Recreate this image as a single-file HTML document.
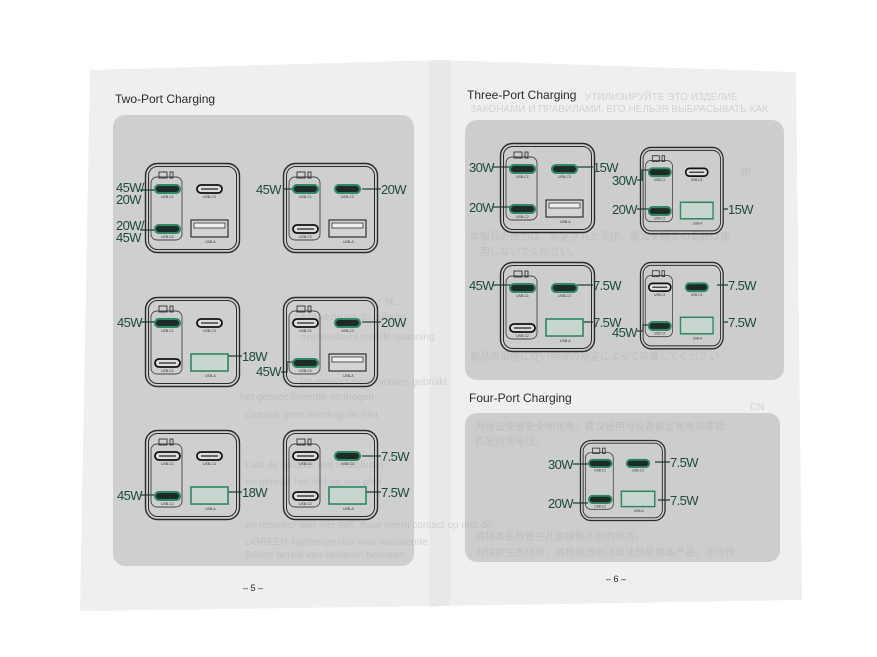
<!DOCTYPE html>
<html><head><meta charset="utf-8"><style>
html,body{margin:0;padding:0;background:#fff;width:877px;height:657px;overflow:hidden}
svg{display:block}
.t{font-family:"Liberation Sans",sans-serif;font-size:12px;fill:#2a2a2a}
.w{font-family:"Liberation Sans",sans-serif;font-size:13px;fill:#1d4a3a;letter-spacing:-0.6px}
.s{font-family:"Liberation Sans",sans-serif;font-size:3.5px;fill:#333}
.bg{font-family:"Liberation Sans","Noto Sans CJK SC",sans-serif;font-size:10px;fill:#a8a8a8}
</style></head><body>
<svg width="877" height="657" viewBox="0 0 877 657" xmlns="http://www.w3.org/2000/svg">
<defs>
<g id="ch">
<rect x="0.5" y="0.5" width="94" height="89" rx="12" fill="none" stroke="#2a2a2a" stroke-width="1.4"/>
<rect x="3.5" y="3.5" width="88" height="83" rx="9" fill="none" stroke="#2a2a2a" stroke-width="1"/>
<rect x="6" y="14" width="31" height="63" rx="6" fill="none" stroke="#444" stroke-width="0.9"/>
<rect x="14" y="9" width="8" height="6" fill="none" stroke="#333" stroke-width="0.9"/>
<rect x="25" y="9" width="3" height="6" fill="none" stroke="#333" stroke-width="0.9"/>
<rect x="10" y="22" width="25" height="8" rx="4" fill="#ddd" stroke="#111" stroke-width="1.8"/>
<line x1="14" y1="26" x2="31" y2="26" stroke="#222" stroke-width="1.2"/>
<text class="s" x="16" y="35">USB-C1</text>
<rect x="10" y="62" width="25" height="8" rx="4" fill="#ddd" stroke="#111" stroke-width="1.8"/>
<line x1="14" y1="66" x2="31" y2="66" stroke="#222" stroke-width="1.2"/>
<text class="s" x="16" y="75">USB-C2</text>
<rect x="52" y="22" width="25" height="8" rx="4" fill="#ddd" stroke="#111" stroke-width="1.8"/>
<line x1="56" y1="26" x2="73" y2="26" stroke="#222" stroke-width="1.2"/>
<text class="s" x="58" y="35">USB-C3</text>
<rect x="46" y="57" width="37" height="17" fill="#d4d4d4" stroke="#222" stroke-width="1.1"/>
<rect x="49" y="60" width="31" height="5" fill="#eee" stroke="#333" stroke-width="0.8"/>
<text class="s" x="60" y="80">USB-A</text>
</g>
<rect id="gp" width="25" height="8" rx="4" fill="#1e2a25" stroke="#2f8a63" stroke-width="2"/>
<rect id="ga" width="37" height="17" fill="#c9d6cf" stroke="#2f8a63" stroke-width="1.6"/>
</defs>
<polygon points="90,70 440,60 796,72 802,600 440,606 80,611" fill="#efefef"/>
<polygon points="430,61 440,60 450,61 450,606 440,606 430,607" fill="#e8e8e8"/>
<rect x="113" y="115" width="301" height="451" rx="12" fill="#cfcfcf"/>
<rect x="465" y="120" width="319" height="260" rx="12" fill="#cdcdcd"/>
<rect x="465" y="413" width="315" height="149" rx="12" fill="#cdcdcd"/>
<g class="bg" opacity="0.4">
<text x="385" y="305">NL</text>
<text x="300" y="320">aanwezig op de oplader</text>
<text x="300" y="340">overeenkomt met de spanning</text>
<text x="300" y="385">Dit product moet worden gebruikt</text>
<text x="240" y="400">het gespecificeerde vermogen</text>
<text x="245" y="418">Gebruik geen voeding die niet</text>
<text x="245" y="468">Laat de oplader niet in de buurt</text>
<text x="245" y="485">en gebruik het niet op een plek</text>
<text x="245" y="528">en repareer dan niet zelf, maar neem contact op met de</text>
<text x="245" y="545">UGREEN-klantenservice voor assistentie.</text>
<text x="245" y="558">Buiten bereik van kinderen bewaren.</text>
<text x="585" y="100">УТИЛИЗИРУЙТЕ ЭТО ИЗДЕЛИЕ</text>
<text x="470" y="112">ЗАКОНАМИ И ПРАВИЛАМИ, ЕГО НЕЛЬЗЯ ВЫБРАСЫВАТЬ КАК</text>
<text x="740" y="175">JP</text>
<text x="470" y="240">本製品の出力は、指定された電圧、電流を超えの電源は使</text>
<text x="480" y="255">用しないでください。</text>
<text x="470" y="360">製品の損傷に従い地域の規定によって廃棄してください</text>
<text x="750" y="410">CN</text>
<text x="475" y="430">为保证快速安全地充电，建议使用与设备额定充电功率相</text>
<text x="475" y="445">匹配的充电线。</text>
<text x="475" y="540">请将本品放置在儿童接触不到的地方。</text>
<text x="475" y="556">为保护生态环境，请根据当地法律法规处理本产品，不可作</text>
</g>
<text class="t" x="115" y="103">Two-Port Charging</text>
<text class="t" x="467" y="99">Three-Port Charging</text>
<text class="t" x="469" y="402">Four-Port Charging</text>
<text class="t" x="243" y="591" style="font-size:9px">– 5 –</text>
<text class="t" x="606" y="582" style="font-size:9px">– 6 –</text>

<g stroke="#1d4a3a" stroke-width="1.3" fill="none">
<line x1="140" y1="190" x2="155" y2="190"/><line x1="140" y1="230" x2="155" y2="230"/>
<line x1="283" y1="189" x2="293" y2="189"/><line x1="362" y1="189" x2="381" y2="189"/>
<line x1="141" y1="322" x2="155" y2="322"/><line x1="228" y1="356" x2="242" y2="356"/>
<polyline points="281,372 287,372 287,362 293,362"/><line x1="362" y1="322" x2="381" y2="322"/>
<line x1="141" y1="495" x2="155" y2="495"/><line x1="228" y1="492" x2="242" y2="492"/>
<line x1="362" y1="456" x2="381" y2="456"/><line x1="366" y1="492" x2="381" y2="492"/>
<line x1="493" y1="167" x2="510" y2="167"/><line x1="577" y1="167" x2="593" y2="167"/><line x1="493" y1="207" x2="510" y2="207"/>
<polyline points="637,180 642,180 642,170 650,170"/><line x1="637" y1="209" x2="650" y2="209"/><line x1="723" y1="209" x2="728" y2="209"/>
<line x1="493" y1="285" x2="510" y2="285"/><line x1="577" y1="285" x2="593" y2="285"/><line x1="583" y1="322" x2="593" y2="322"/>
<line x1="717" y1="285" x2="728" y2="285"/><polyline points="637,331 643,331 643,325 650,325"/><line x1="723" y1="322" x2="728" y2="322"/>
<line x1="573" y1="464" x2="588" y2="464"/><line x1="573" y1="503" x2="588" y2="503"/><line x1="655" y1="462" x2="670" y2="462"/><line x1="658" y1="500" x2="670" y2="500"/>
</g>

<g transform="translate(145,163)"><use href="#ch"/><use href="#gp" x="10" y="22"/><use href="#gp" x="10" y="62"/></g>
<g transform="translate(283,163)"><use href="#ch"/><use href="#gp" x="10" y="22"/><use href="#gp" x="52" y="22"/></g>
<g transform="translate(145,297)"><use href="#ch"/><use href="#gp" x="10" y="22"/><use href="#ga" x="46" y="57"/></g>
<g transform="translate(283,297)"><use href="#ch"/><use href="#gp" x="10" y="62"/><use href="#gp" x="52" y="22"/></g>
<g transform="translate(145,430)"><use href="#ch"/><use href="#gp" x="10" y="62"/><use href="#ga" x="46" y="57"/></g>
<g transform="translate(283,430)"><use href="#ch"/><use href="#gp" x="52" y="22"/><use href="#ga" x="46" y="57"/></g>
<g transform="translate(500,143)"><use href="#ch"/><use href="#gp" x="10" y="22"/><use href="#gp" x="10" y="62"/><use href="#gp" x="52" y="22"/></g>
<g transform="translate(640,147) scale(0.88,0.97)"><use href="#ch"/><use href="#gp" x="10" y="22"/><use href="#gp" x="10" y="62"/><use href="#ga" x="46" y="57"/></g>
<g transform="translate(500,262)"><use href="#ch"/><use href="#gp" x="10" y="22"/><use href="#gp" x="52" y="22"/><use href="#ga" x="46" y="57"/></g>
<g transform="translate(640,262) scale(0.88,0.97)"><use href="#ch"/><use href="#gp" x="10" y="62"/><use href="#gp" x="52" y="22"/><use href="#ga" x="46" y="57"/></g>
<g transform="translate(580,440) scale(0.9,0.9)"><use href="#ch"/><use href="#gp" x="10" y="22"/><use href="#gp" x="10" y="62"/><use href="#gp" x="52" y="22"/><use href="#ga" x="46" y="57"/></g>

<g class="w">
<text x="116" y="192">45W/</text><text x="116" y="204">20W</text>
<text x="116" y="230">20W/</text><text x="116" y="242">45W</text>
<text x="256" y="194">45W</text><text x="381" y="194">20W</text>
<text x="117" y="327">45W</text><text x="242" y="361">18W</text>
<text x="256" y="376">45W</text><text x="381" y="327">20W</text>
<text x="117" y="500">45W</text><text x="242" y="497">18W</text>
<text x="381" y="461">7.5W</text><text x="381" y="497">7.5W</text>
<text x="469" y="172">30W</text><text x="593" y="172">15W</text><text x="469" y="212">20W</text>
<text x="612" y="185">30W</text><text x="612" y="214">20W</text><text x="728" y="214">15W</text>
<text x="469" y="290">45W</text><text x="593" y="290">7.5W</text><text x="593" y="327">7.5W</text>
<text x="728" y="290">7.5W</text><text x="612" y="337">45W</text><text x="728" y="327">7.5W</text>
<text x="548" y="469">30W</text><text x="548" y="508">20W</text><text x="670" y="467">7.5W</text><text x="670" y="505">7.5W</text>
</g>
</svg>
</body></html>
